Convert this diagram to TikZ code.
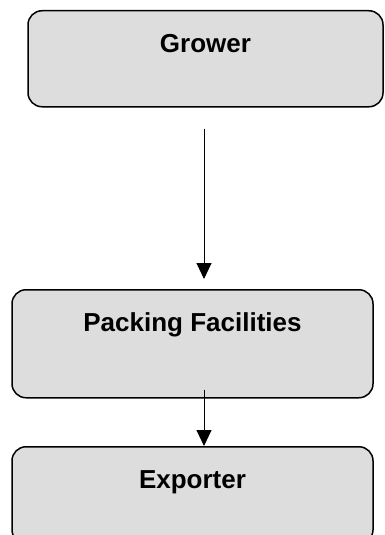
\documentclass[tikz,border=0pt]{standalone}
\usepackage{fontspec}
\setmainfont{Liberation Sans}
\usetikzlibrary{arrows.meta}
\definecolor{boxgray}{RGB}{221,221,221}

\begin{document}
\begin{tikzpicture}[x=1pt, y=-1pt]
        \tikzstyle{every node}=[rectangle, rounded corners=14pt, fill=boxgray, draw=black, line width=1.5pt, inner sep=0pt, text height=42pt, font=\fontsize{26}{30}\selectfont\bfseries, text=black]
        \tikzstyle{flow}=[black, line width=1pt, -{Triangle[width=15pt, length=16pt]}]

        \useasboundingbox (0,0) rectangle (385,535);

        \node[anchor=north, minimum width=355pt, text depth=54pt] (grower)  at (205.5,10)  {Grower};
        \node[anchor=north, minimum width=361pt, text depth=66pt] (packing) at (192.5,289) {Packing Facilities};
        \node[anchor=north, minimum width=361pt, text depth=55pt] (export)  at (192.5,446) {Exporter};

        \coordinate (axis) at (204,0);

        \draw[flow] ([yshift=-21pt]grower.south -| axis) -- ([yshift=10pt]packing.north -| axis);
        \draw[flow] ([yshift=9pt]packing.south -| axis) -- (export.north -| axis);
    \end{tikzpicture}
\end{document}
